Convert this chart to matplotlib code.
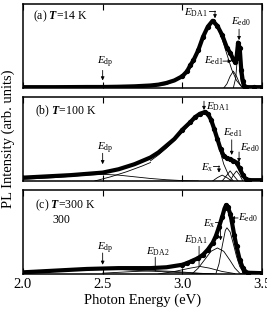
import matplotlib
matplotlib.use("Agg")
import matplotlib.pyplot as plt

plt.rcParams['font.family'] = ['Liberation Serif', 'DejaVu Serif']
plt.rcParams['mathtext.fontset'] = 'custom'
plt.rcParams['mathtext.rm'] = 'Liberation Serif'
plt.rcParams['mathtext.it'] = 'Liberation Serif:italic'
plt.rcParams['mathtext.bf'] = 'Liberation Serif:bold:italic'

# ---------------- data (normalised PL intensity vs photon energy, eV) -------------
# Panel (a) T = 14 K
a_E = [2.00, 2.20, 2.40, 2.50, 2.60, 2.70, 2.80, 2.85, 2.90, 2.95, 3.00, 3.03, 3.05,
       3.07, 3.10, 3.13, 3.16, 3.19, 3.22, 3.25, 3.28, 3.30, 3.32, 3.33, 3.34, 3.35,
       3.36, 3.37, 3.38, 3.39, 3.40, 3.45, 3.50]
a_I = [0.010, 0.010, 0.012, 0.012, 0.015, 0.020, 0.030, 0.040, 0.060, 0.090, 0.140, 0.200, 0.270,
       0.330, 0.450, 0.610, 0.730, 0.800, 0.740, 0.630, 0.480, 0.420, 0.340, 0.310, 0.360, 0.540,
       0.480, 0.210, 0.080, 0.020, 0.010, 0.010, 0.010]
a_DA1_E = [2.70, 2.90, 3.00, 3.05, 3.10, 3.13, 3.16, 3.19, 3.22, 3.25, 3.28, 3.31, 3.34, 3.37, 3.40]
a_DA1_I = [0.00, 0.04, 0.13, 0.26, 0.44, 0.60, 0.72, 0.78, 0.72, 0.58, 0.40, 0.22, 0.09, 0.02, 0.00]
a_ed1_E = [3.26, 3.28, 3.30, 3.32, 3.34, 3.36, 3.38]
a_ed1_I = [0.00, 0.05, 0.14, 0.20, 0.14, 0.05, 0.00]
a_ed0_E = [3.32, 3.335, 3.345, 3.35, 3.355, 3.365, 3.38]
a_ed0_I = [0.00, 0.12, 0.35, 0.45, 0.35, 0.12, 0.00]

# Panel (b) T = 100 K
b_E = [2.00, 2.10, 2.20, 2.30, 2.40, 2.50, 2.60, 2.70, 2.80, 2.85, 2.90, 2.95, 3.00,
       3.05, 3.08, 3.11, 3.14, 3.16, 3.18, 3.20, 3.22, 3.24, 3.26, 3.28, 3.30, 3.32,
       3.34, 3.36, 3.38, 3.40, 3.42, 3.50]
b_I = [0.040, 0.050, 0.060, 0.070, 0.085, 0.100, 0.140, 0.200, 0.280, 0.340, 0.420, 0.500, 0.610,
       0.700, 0.760, 0.800, 0.820, 0.800, 0.730, 0.620, 0.500, 0.380, 0.300, 0.270, 0.260, 0.240,
       0.220, 0.150, 0.070, 0.020, 0.010, 0.010]
b_dp_E = [2.00, 2.20, 2.40, 2.50, 2.60, 2.70, 2.80, 2.90, 3.00, 3.10]
b_dp_I = [0.020, 0.040, 0.070, 0.080, 0.070, 0.050, 0.030, 0.015, 0.005, 0.000]
b_DA2_E = [2.45, 2.55, 2.65, 2.75, 2.80]
b_DA2_I = [0.00, 0.05, 0.11, 0.18, 0.22]
b_DA1_E = [2.80, 2.85, 2.90, 2.95, 3.00, 3.05, 3.08, 3.11, 3.14, 3.17, 3.20, 3.23, 3.26, 3.29, 3.32]
b_DA1_I = [0.24, 0.31, 0.39, 0.48, 0.58, 0.68, 0.74, 0.78, 0.80, 0.76, 0.60, 0.40, 0.20, 0.07, 0.00]
b_x_E = [3.19, 3.22, 3.25, 3.28, 3.31]
b_x_I = [0.00, 0.04, 0.07, 0.04, 0.00]
b_ed1_E = [3.25, 3.28, 3.30, 3.32, 3.35]
b_ed1_I = [0.00, 0.07, 0.12, 0.07, 0.00]
b_ed0_E = [3.30, 3.32, 3.34, 3.36, 3.38]
b_ed0_I = [0.00, 0.07, 0.12, 0.07, 0.00]

# Panel (c) T = 300 K
c_E = [2.00, 2.10, 2.20, 2.30, 2.40, 2.50, 2.60, 2.70, 2.80, 2.90, 2.95, 3.00, 3.03,
       3.06, 3.10, 3.13, 3.16, 3.19, 3.21, 3.23, 3.25, 3.265, 3.275, 3.285, 3.30, 3.31,
       3.325, 3.34, 3.36, 3.38, 3.39, 3.41, 3.50]
c_I = [0.020, 0.030, 0.040, 0.050, 0.060, 0.065, 0.070, 0.070, 0.070, 0.080, 0.095, 0.110, 0.130,
       0.155, 0.190, 0.230, 0.290, 0.370, 0.450, 0.560, 0.680, 0.780, 0.820, 0.800, 0.720, 0.630,
       0.470, 0.330, 0.170, 0.070, 0.040, 0.015, 0.010]
c_dp_E = [2.00, 2.20, 2.40, 2.50, 2.60, 2.80, 3.00, 3.20]
c_dp_I = [0.020, 0.040, 0.055, 0.060, 0.055, 0.035, 0.015, 0.000]
c_DA2_E = [2.50, 2.70, 2.83, 2.95, 3.10, 3.20]
c_DA2_I = [0.010, 0.030, 0.040, 0.030, 0.010, 0.000]
c_DA1_E = [2.85, 2.95, 3.05, 3.11, 3.17, 3.25, 3.33]
c_DA1_I = [0.000, 0.030, 0.070, 0.090, 0.070, 0.030, 0.005]
c_x_E = [3.06, 3.10, 3.14, 3.18, 3.22, 3.26, 3.30, 3.33, 3.36, 3.38]
c_x_I = [0.00, 0.07, 0.17, 0.27, 0.31, 0.27, 0.16, 0.07, 0.01, 0.00]
c_ed0_E = [3.21, 3.23, 3.25, 3.27, 3.28, 3.30, 3.32, 3.34, 3.36, 3.38, 3.40]
c_ed0_I = [0.00, 0.12, 0.33, 0.52, 0.55, 0.50, 0.36, 0.21, 0.09, 0.03, 0.00]

x_ticks = [2.0, 2.5, 3.0, 3.5]
x_ticklabels = ["2.0", "2.5", "3.0", "3.5"]

# ---------------- figure ----------------
W, H = 267, 309
fig = plt.figure(figsize=(W / 100, H / 100), dpi=100)

def px_axes(top, bottom):
    left, right = 23, 262
    return fig.add_axes([left / W, (H - bottom) / H, (right - left) / W, (bottom - top) / H])

axA = px_axes(4, 88)
axB = px_axes(97, 181)
axC = px_axes(190, 274)

def style(ax, labels):
    ax.set_xlim(2.0, 3.5)
    ax.set_ylim(0, 1)
    ax.set_xticks(x_ticks)
    ax.set_yticks([])
    ax.tick_params(axis='x', direction='in', length=4, width=0.8, top=True, bottom=True,
                   labelsize=10.5, pad=3)
    if labels:
        ax.set_xticklabels(x_ticklabels)
    else:
        ax.set_xticklabels([])
    for s in ax.spines.values():
        s.set_linewidth(1.1)

def data(ax, E, I):
    ax.plot(E, I, color='black', lw=3.0, solid_capstyle='round', solid_joinstyle='round', zorder=3)
    mask = [e >= 3.0 for e in E]
    ax.plot(E, I, 'o', color='black', ms=2.8, markevery=mask, zorder=4)

def comp(ax, E, I):
    ax.plot(E, I, color='black', lw=0.6, zorder=5)

mfs = 8
arw = dict(arrowstyle='-|>', lw=0.6, color='black', mutation_scale=5, shrinkA=0, shrinkB=0)
line = dict(arrowstyle='-', lw=0.6, color='black', shrinkA=0, shrinkB=0)

def arrow(ax, x0, y0, x1, y1, props=arw):
    ax.annotate('', xy=(x1, y1), xytext=(x0, y0), arrowprops=props)

def bracket(ax, x0, x1, y0, y1):
    ax.plot([x0, x1], [y0, y0], color='black', lw=0.6)
    arrow(ax, x1, y0, x1, y1)

# (a)
style(axA, False)
data(axA, a_E, a_I)
for E, I in [(a_DA1_E, a_DA1_I), (a_ed1_E, a_ed1_I), (a_ed0_E, a_ed0_I)]:
    comp(axA, E, I)
axA.text(0.042, 0.855, r"(a) $\mathbf{T}$=14 K", transform=axA.transAxes, fontsize=8.5, va='center')
axA.text(2.515, 0.31, r"$E_{\rm dp}$", fontsize=mfs, ha='center', va='center')
arrow(axA, 2.5, 0.21, 2.5, 0.09)
axA.text(3.086, 0.89, r"$E_{\rm DA1}$", fontsize=mfs, ha='center', va='center')
bracket(axA, 3.167, 3.205, 0.917, 0.83)
axA.text(3.368, 0.786, r"$E_{\rm ed0}$", fontsize=mfs, ha='center', va='center')
arrow(axA, 3.356, 0.70, 3.356, 0.57)
axA.text(3.199, 0.32, r"$E_{\rm ed1}$", fontsize=mfs, ha='center', va='center')
arrow(axA, 3.255, 0.32, 3.31, 0.32)

# (b)
style(axB, False)
data(axB, b_E, b_I)
for E, I in [(b_dp_E, b_dp_I), (b_DA2_E, b_DA2_I), (b_DA1_E, b_DA1_I),
             (b_x_E, b_x_I), (b_ed1_E, b_ed1_I), (b_ed0_E, b_ed0_I)]:
    comp(axB, E, I)
axB.text(0.05, 0.83, r"(b) $\mathbf{T}$=100 K", transform=axB.transAxes, fontsize=8.5, va='center')
axB.text(2.515, 0.39, r"$E_{\rm dp}$", fontsize=mfs, ha='center', va='center')
arrow(axB, 2.5, 0.33, 2.5, 0.20)
axB.text(3.224, 0.88, r"$E_{\rm DA1}$", fontsize=mfs, ha='center', va='center')
arrow(axB, 3.136, 0.95, 3.136, 0.845)
axB.text(3.32, 0.57, r"$E_{\rm ed1}$", fontsize=mfs, ha='center', va='center')
arrow(axB, 3.31, 0.49, 3.31, 0.31)
axB.text(3.425, 0.39, r"$E_{\rm ed0}$", fontsize=mfs, ha='center', va='center')
arrow(axB, 3.356, 0.345, 3.356, 0.225)
axB.text(3.16, 0.155, r"$E_{\rm x}$", fontsize=mfs, ha='center', va='center')
bracket(axB, 3.19, 3.23, 0.18, 0.10)

# (c)
style(axC, True)
data(axC, c_E, c_I)
for E, I in [(c_dp_E, c_dp_I), (c_DA2_E, c_DA2_I), (c_DA1_E, c_DA1_I),
             (c_x_E, c_x_I), (c_ed0_E, c_ed0_I)]:
    comp(axC, E, I)
axC.text(0.05, 0.82, r"(c) $\mathbf{T}$=300 K", transform=axC.transAxes, fontsize=8.5, va='center')
axC.text(0.16, 0.64, "300", transform=axC.transAxes, fontsize=8.5, va='center', ha='center')
axC.text(2.515, 0.31, r"$E_{\rm dp}$", fontsize=mfs, ha='center', va='center')
arrow(axC, 2.5, 0.25, 2.5, 0.11)
axC.text(2.847, 0.27, r"$E_{\rm DA2}$", fontsize=mfs, ha='center', va='center')
arrow(axC, 2.83, 0.20, 2.83, 0.035, line)
axC.text(3.086, 0.405, r"$E_{\rm DA1}$", fontsize=mfs, ha='center', va='center')
arrow(axC, 3.105, 0.33, 3.105, 0.095, line)
axC.text(3.17, 0.595, r"$E_{\rm x}$", fontsize=mfs, ha='center', va='center')
bracket(axC, 3.205, 3.24, 0.62, 0.40)
axC.text(3.41, 0.667, r"$E_{\rm ed0}$", fontsize=mfs, ha='center', va='center')
arrow(axC, 3.35, 0.667, 3.305, 0.667)

axC.set_xlabel("Photon Energy (eV)", fontsize=10.5, labelpad=2)
fig.text(8 / W, (H - 139) / H, "PL Intensity (arb. units)", rotation=90,
         fontsize=10.5, ha='center', va='center')

fig.savefig("out.png", dpi=100)
